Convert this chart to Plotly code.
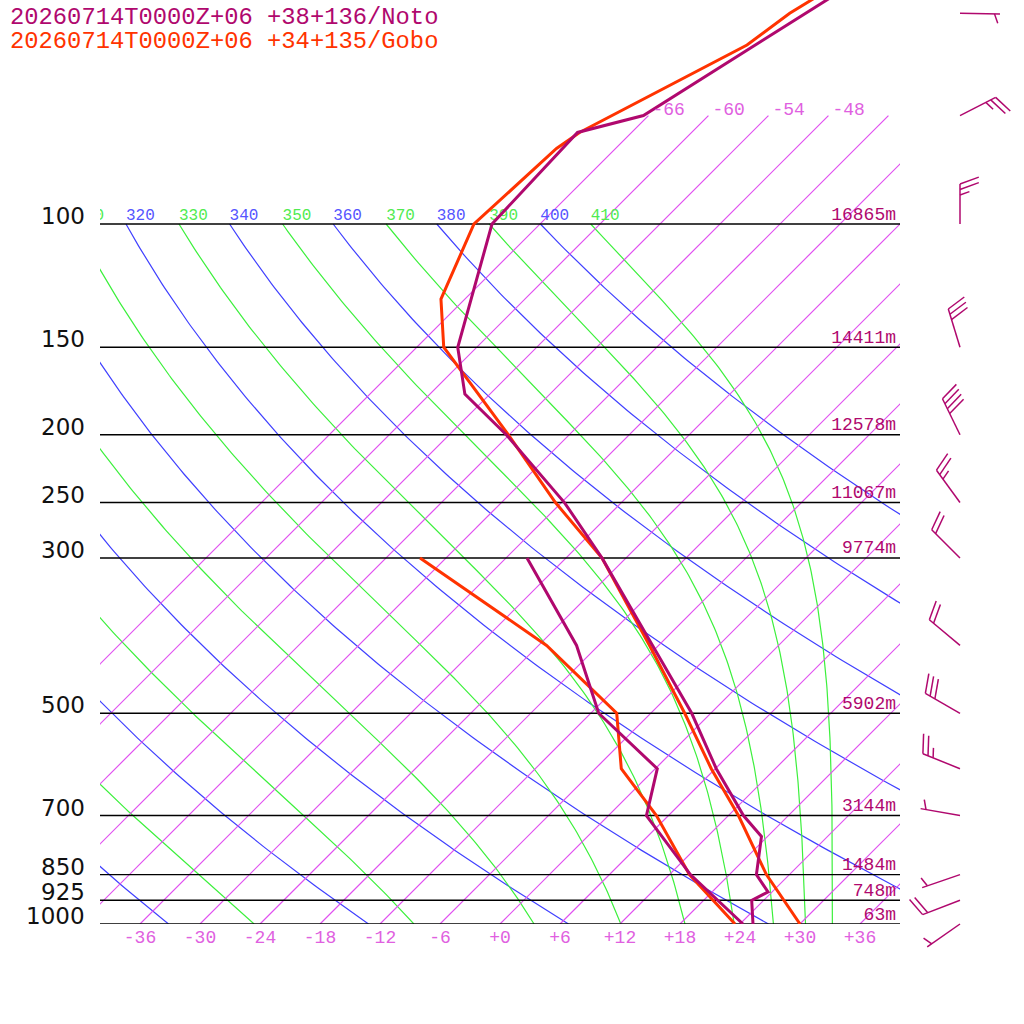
import numpy as np
import plotly.graph_objects as go

# ---- sounding data (p in hPa, T in degC) ----
noto_t_p = [1000, 925, 900, 850, 750, 700, 600, 500, 400, 300, 250, 200, 175, 150, 100, 74, 70, 30]
noto_t = [25.3, 22.8, 23.6, 20.7, 17.4, 13.5, 6.1, -1.9, -12.6, -26.4, -35.7, -48.3, -56.5, -61.9, -70.8, -71.4, -66.5, -51.4]

gobo_t_p = [1000, 925, 850, 700, 600, 500, 400, 300, 250, 200, 150, 128, 100, 78, 74, 55.5, 50, 30]
gobo_t = [30.0, 26.0, 21.7, 13.0, 5.6, -2.6, -12.9, -26.4, -36.6, -48.1, -63.3, -68.4, -72.6, -71.9, -71.2, -63.2, -62.1, -52.3]

td_p = [1000, 925, 850, 700, 600, 500, 400, 300]
noto_td = [24.3, 19.4, 14.1, 3.8, 0.2, -11.2, -20.2, -33.9]
gobo_td = [23.5, 18.9, 14.0, 4.8, -3.4, -9.4, -23.2, -44.6]

# standard levels and geopotential heights (Noto)
levels = [1000, 925, 850, 700, 500, 300, 250, 200, 150, 100]
heights = [63, 748, 1484, 3144, 5902, 9774, 11067, 12578, 14411, 16865]

# winds (Noto): direction deg, speed kt
wind_p = [1000, 925, 850, 700, 600, 500, 400, 300, 250, 200, 150, 100, 70, 50]
wind_dir = [235, 249, 251, 280, 292, 300, 310, 315, 324, 334, 343, 0, 63, 91]
wind_spd = [5, 20, 5, 5, 25, 30, 20, 20, 25, 40, 30, 25, 25, 5]

temp_ticks = list(range(-36, 37, 6))
isotherms = list(range(-66, 37, 6))
dry_thetas = list(range(240, 401, 20))
moist_thetas = list(range(250, 411, 20))

titles = ["20260714T0000Z+06 +38+136/Noto", "20260714T0000Z+06 +34+135/Gobo"]

NOTO = "rgb(176,8,110)"
GOBO = "rgb(255,51,0)"
ISO_C = "#e050f0"
ISO_LBL = "rgb(224,96,224)"
DRY_C = "rgb(64,64,255)"
MOIST_C = "rgb(60,240,60)"

SKEW = 70.0  # degC per decade of pressure


def skew_x(t, p):
    return np.asarray(t, float) + SKEW * np.log10(1000.0 / np.asarray(p, float))


def sat_theta_e(tk, p):
    tc = tk - 273.15
    es = 6.112 * np.exp(17.67 * tc / (tc + 243.5))
    r = 0.622 * es / np.maximum(p - es, 1e-3)
    return tk * (1000.0 / p) ** (0.2854 * (1 - 0.28 * r)) * \
        np.exp((3.376 / tk - 0.00254) * r * 1000 * (1 + 0.81 * r))


def moist_t(theta_e, p):
    # saturated temperature on a pseudo-adiabat, found by bisection
    p = np.asarray(p, float)
    lo = np.full_like(p, 150.0)
    hi = np.full_like(p, 330.0)
    with np.errstate(over="ignore", invalid="ignore"):
        for _ in range(60):
            mid = 0.5 * (lo + hi)
            f = sat_theta_e(mid, p) > theta_e
            hi = np.where(f, mid, hi)
            lo = np.where(f, lo, mid)
    return 0.5 * (lo + hi) - 273.15


def dry_t(theta, p):
    return theta * (np.asarray(p, float) / 1000.0) ** 0.2857 - 273.15


fig = go.Figure()
pgrid = np.geomspace(1000, 100, 200)

# dry adiabats
for th in dry_thetas:
    fig.add_trace(go.Scatter(x=skew_x(dry_t(th, pgrid), pgrid), y=pgrid, mode="lines",
                             line=dict(color=DRY_C, width=1.2), hoverinfo="skip"))
# moist adiabats
for th in moist_thetas:
    fig.add_trace(go.Scatter(x=skew_x(moist_t(th, pgrid), pgrid), y=pgrid, mode="lines",
                             line=dict(color=MOIST_C, width=1.2), hoverinfo="skip"))

# isotherms, one trace with gaps
iso_x, iso_y = [], []
for t in isotherms:
    iso_x += list(skew_x([t, t], [1000, 70])) + [None]
    iso_y += [1000, 70, None]
fig.add_trace(go.Scatter(x=iso_x, y=iso_y, mode="lines", connectgaps=False,
                         line=dict(color=ISO_C, width=1.2), hoverinfo="skip"))

# theta labels at 100 hPa
fig.add_trace(go.Scatter(x=[float(skew_x(dry_t(th, 100), 100)) for th in dry_thetas],
                         y=[100] * len(dry_thetas), mode="text", text=[str(th) for th in dry_thetas],
                         textposition="top right",
                         textfont=dict(family="Liberation Mono", size=16, color="rgb(85,85,255)")))
fig.add_trace(go.Scatter(x=[float(skew_x(moist_t(th, [100.0])[0], 100)) for th in moist_thetas],
                         y=[100] * len(moist_thetas), mode="text", text=[str(th) for th in moist_thetas],
                         textposition="top right",
                         textfont=dict(family="Liberation Mono", size=16, color="rgb(80,235,80)")))

# isobars
for p in levels:
    fig.add_trace(go.Scatter(x=[-40, 40], y=[p, p], mode="lines",
                             line=dict(color="black", width=1.4), hoverinfo="skip"))
fig.add_trace(go.Scatter(x=[39.6] * len(levels), y=levels, mode="text",
                         text=[f"{h}m" for h in heights], textposition="top left",
                         textfont=dict(family="Liberation Mono", size=18, color=NOTO)))

# soundings
fig.add_trace(go.Scatter(x=skew_x(gobo_td, td_p), y=td_p, mode="lines", line=dict(color=GOBO, width=3)))
fig.add_trace(go.Scatter(x=skew_x(noto_td, td_p), y=td_p, mode="lines", line=dict(color=NOTO, width=3)))
fig.add_trace(go.Scatter(x=skew_x(gobo_t, gobo_t_p), y=gobo_t_p, mode="lines", line=dict(color=GOBO, width=3)))
fig.add_trace(go.Scatter(x=skew_x(noto_t, noto_t_p), y=noto_t_p, mode="lines", line=dict(color=NOTO, width=3)))

# isotherm labels on top of the soundings
lbl = [t for t in isotherms if skew_x(t, 70) < 34]
fig.add_trace(go.Scatter(x=skew_x(lbl, [70] * len(lbl)) + 0.4, y=[71] * len(lbl), mode="text",
                         text=[str(t) for t in lbl], textposition="top right",
                         textfont=dict(family="Liberation Mono", size=18, color=ISO_LBL)))

# wind barbs (pixel-sized glyphs on a side axis)
bx_all, by_all = [], []
for p0, d, s in zip(wind_p, wind_dir, wind_spd):
    r = np.radians(d)
    sx, sy = np.sin(r), -np.cos(r)
    a = np.radians(70)
    fx = sx * np.cos(a) - sy * np.sin(a)
    fy = sx * np.sin(a) + sy * np.cos(a)
    segs = [((0, 0), (40 * sx, 40 * sy))]
    nfull, half = s // 10, (s % 10) >= 5
    pos = 5.5 if nfull == 0 else 0.0
    for i in range(nfull):
        x0, y0 = (40 - pos) * sx, (40 - pos) * sy
        segs.append(((x0, y0), (x0 + 20 * fx, y0 + 20 * fy)))
        pos += 5.5
    if half:
        x0, y0 = (40 - pos) * sx, (40 - pos) * sy
        segs.append(((x0, y0), (x0 + 10 * fx, y0 + 10 * fy)))
    for (x0, y0), (x1, y1) in segs:
        bx_all += [960 + x0, 960 + x1, None]
        by_all += [p0 * 10 ** (y0 / 700), p0 * 10 ** (y1 / 700), None]
fig.add_trace(go.Scatter(x=bx_all, y=by_all, mode="lines", line=dict(color=NOTO, width=1.5),
                         xaxis="x2", yaxis="y2", hoverinfo="skip"))

annotations = []
for i, (txt, col) in enumerate(zip(titles, [NOTO, GOBO])):
    annotations.append(dict(text=txt, xref="paper", yref="paper", x=8 / 1024, y=1 - (17 + 24 * i) / 1024,
                            xanchor="left", yanchor="middle", showarrow=False,
                            font=dict(family="Liberation Mono", size=23.8, color=col)))
for p in levels:
    annotations.append(dict(text=str(p), xref="paper", yref="y", x=87 / 1024, y=np.log10(p), yshift=8,
                            xanchor="right", yanchor="middle", showarrow=False,
                            font=dict(family="DejaVu Sans", size=23, color="#111111")))

fig.update_layout(
    width=1024, height=1024, margin=dict(l=0, r=0, t=0, b=0, pad=0),
    paper_bgcolor="white", plot_bgcolor="white", showlegend=False,
    annotations=annotations,
    xaxis=dict(domain=[100 / 1024, 900 / 1024], range=[-40, 40], showgrid=False, zeroline=False,
               showline=False, ticks="", tickvals=temp_ticks,
               ticktext=[f"{t:+d}" for t in temp_ticks],
               tickfont=dict(family="Liberation Mono", size=18, color=ISO_LBL), anchor="y"),
    yaxis=dict(domain=[100 / 1024, 1], type="log", range=[3, 3 - 924 / 700], showgrid=False,
               zeroline=False, showticklabels=False, anchor="x"),
    xaxis2=dict(domain=[900 / 1024, 1], range=[900, 1024], visible=False, anchor="y2"),
    yaxis2=dict(domain=[0, 1], type="log", range=[3 + 100 / 700, 3 - 924 / 700], visible=False, anchor="x2"),
)

fig.write_html("out.html", config={"displayModeBar": False},
               post_script="document.body.style.margin='0px';")
